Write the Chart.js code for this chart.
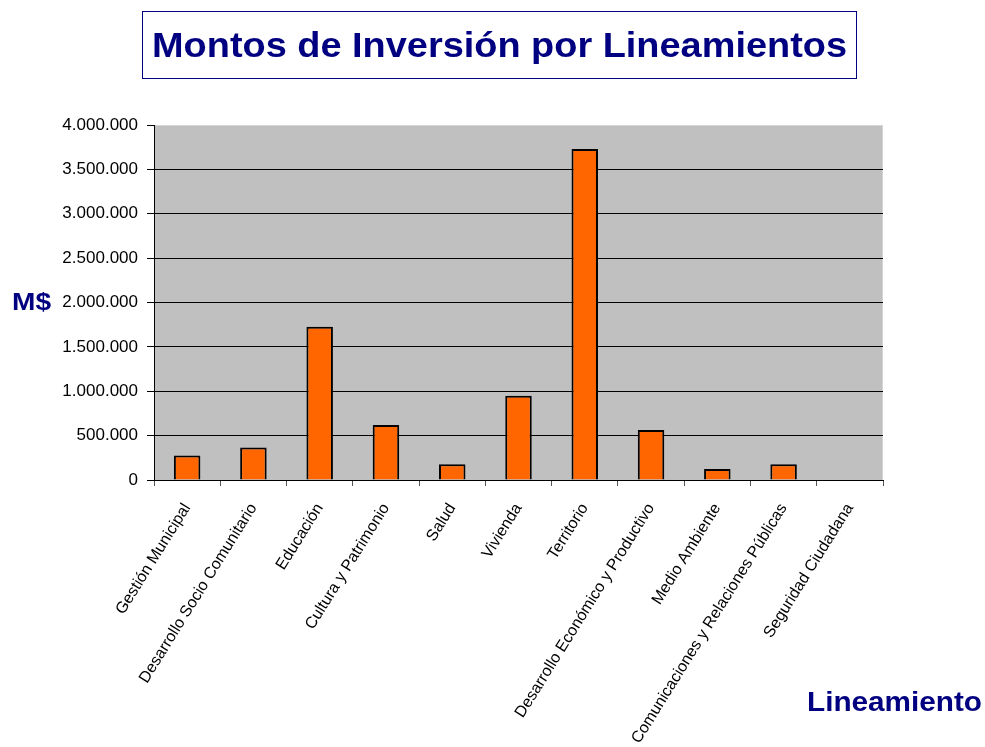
<!DOCTYPE html>
<html>
<head>
<meta charset="utf-8">
<script src="https://cdn.jsdelivr.net/npm/chart.js@4/dist/chart.umd.min.js"></script>
<style>
  html, body { margin: 0; padding: 0; background: #fff; }
  #wrap { width: 985px; height: 747px; }
</style>
</head>
<body>
<div id="wrap"><canvas id="myBarChart" width="985" height="747"></canvas></div>
<script>
const lineamientos = ['Gestión Municipal', 'Desarrollo Socio Comunitario', 'Educación', 'Cultura y Patrimonio',
    'Salud', 'Vivienda', 'Territorio', 'Desarrollo Económico y Productivo', 'Medio Ambiente',
    'Comunicaciones y Relaciones Públicas', 'Seguridad Ciudadana'];
const montos = [275000, 365000, 1727000, 620000, 177000, 950000, 3730000, 563000, 124000, 177000, 0];
const yTicks = [0, 500000, 1000000, 1500000, 2000000, 2500000, 3000000, 3500000, 4000000];

const navy = '#000080';
const fontFam = '"Liberation Sans", Arial, sans-serif';

// texto estirado horizontalmente para ocupar un ancho dado (x = borde izquierdo, y = linea base)
function fillFit(ctx, text, x, y, width, size) {
    ctx.font = 'bold ' + size + 'px ' + fontFam;
    const w = ctx.measureText(text).width;
    ctx.save();
    ctx.translate(x, y);
    ctx.scale(width / w, 1);
    ctx.textAlign = 'left';
    ctx.textBaseline = 'alphabetic';
    ctx.fillText(text, 0, 0);
    ctx.restore();
}

// fondo gris del area del grafico + titulo enmarcado + rotulos de ejes
const decor = {
    id: 'decor',
    beforeDraw(chart) {
        const { ctx, chartArea: a } = chart;
        ctx.save();
        ctx.fillStyle = '#c0c0c0';
        ctx.fillRect(a.left, a.top, a.right - a.left, a.bottom - a.top);
        ctx.strokeStyle = '#d4d4d4';
        ctx.lineWidth = 1;
        ctx.beginPath();
        ctx.moveTo(a.left, a.top + 0.5);
        ctx.lineTo(a.right - 0.5, a.top + 0.5);
        ctx.lineTo(a.right - 0.5, a.bottom);
        ctx.stroke();
        ctx.restore();
    },
    afterDraw(chart) {
        const { ctx } = chart;
        ctx.save();
        ctx.strokeStyle = navy;
        ctx.lineWidth = 1;
        ctx.strokeRect(142.5, 11.5, 714, 67);
        ctx.fillStyle = navy;
        fillFit(ctx, 'Montos de Inversión por Lineamientos', 152, 57, 695, 35);
        fillFit(ctx, 'M$', 12, 310, 39, 23);
        fillFit(ctx, 'Lineamiento', 807, 711, 175, 28);
        ctx.restore();
    }
};

new Chart(document.getElementById('myBarChart').getContext('2d'), {
    type: 'bar',
    data: {
        labels: lineamientos,
        datasets: [{
            label: 'Montos',
            data: montos,
            backgroundColor: '#ff6600',
            borderColor: '#000',
            borderWidth: 2,
            barPercentage: 0.4,
            categoryPercentage: 1,
        }]
    },
    options: {
        responsive: false,
        animation: false,
        layout: { padding: { left: 0, top: 125, right: 102, bottom: 0 } },
        plugins: {
            legend: { display: false },
            tooltip: { enabled: false }
        },
        scales: {
            x: {
                grid: { offset: true, drawOnChartArea: false, tickLength: 6, color: '#555' },
                border: { color: '#000', width: 1 },
                ticks: {
                    color: '#000',
                    minRotation: 58,
                    maxRotation: 58,
                    autoSkip: false,
                    padding: 14,
                    font: { family: fontFam, size: 16 }
                },
                afterFit(scale) { scale.height = 267; }
            },
            y: {
                min: 0,
                max: 4000000,
                afterBuildTicks(scale) { scale.ticks = yTicks.map(v => ({ value: v })); },
                grid: {
                    color: ctx => (ctx.tick && ctx.tick.value === 4000000) ? '#d4d4d4' : '#000',
                    tickColor: '#000',
                    tickLength: 7
                },
                border: { color: '#000', width: 1 },
                ticks: {
                    color: '#000',
                    padding: 9,
                    font: { family: fontFam, size: 17 },
                    callback: v => v.toLocaleString('es-CL').replace(/,/g, '.')
                },
                afterFit(scale) { scale.width = 154; }
            }
        }
    },
    plugins: [decor]
});
</script>
</body>
</html>
